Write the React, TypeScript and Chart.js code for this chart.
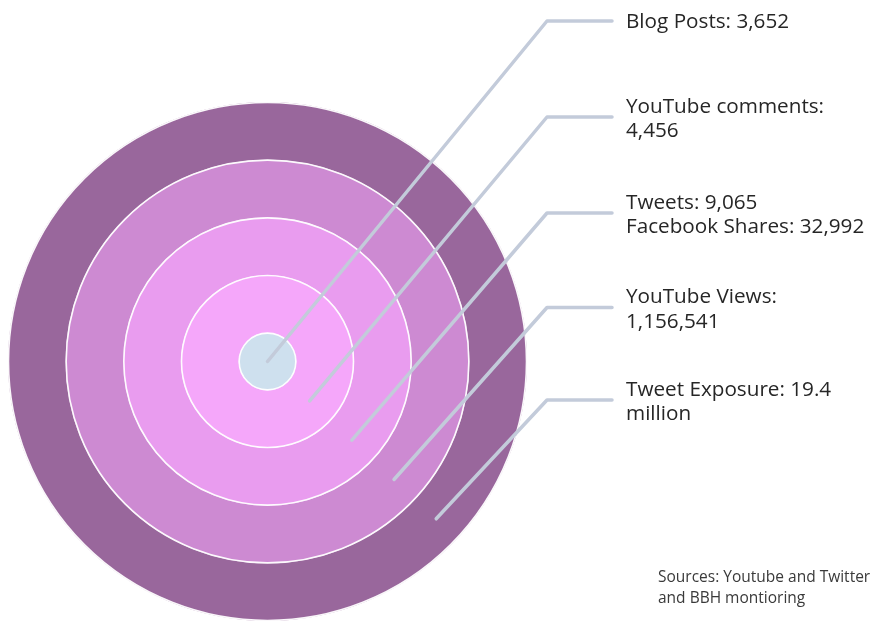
import React, { useEffect, useRef } from "react";
import { Chart, registerables } from "chart.js";

Chart.register(...registerables);

// Rings, outermost first (Chart.js draws the first dataset as the outer ring)
const ringNames = ["Tweet Exposure", "YouTube Views", "Tweets / Facebook Shares", "YouTube comments", "Blog Posts"];
const ringValues = [19400000, 1156541, 32992, 4456, 3652];
const ringWeights = [1, 1, 1, 1, 0.5];
const ringColors = ["#99679C", "#CD8AD2", "#E99CEF", "#F5A7FA", "#CEE0EE"];

// Callout texts, top to bottom (innermost ring first)
const calloutLines = [
  ["Blog Posts: 3,652"],
  ["YouTube comments:", "4,456"],
  ["Tweets: 9,065", "Facebook Shares: 32,992"],
  ["YouTube Views:", "1,156,541"],
  ["Tweet Exposure: 19.4", "million"],
];
const sourceLines = ["Sources: Youtube and Twitter", "and BBH montioring"];

const LEADER_Y = [21, 117, 213, 307.5, 400];

const calloutPlugin = {
  id: "callouts",
  afterDatasetsDraw(chart: any) {
    const ctx = chart.ctx as CanvasRenderingContext2D;
    const n = chart.data.datasets.length;
    ctx.save();
    // white separators between rings
    for (let i = 0; i < n; i++) {
      const arc = chart.getDatasetMeta(i).data[0];
      ctx.beginPath();
      ctx.arc(arc.x, arc.y, arc.outerRadius - 0.5, 0, Math.PI * 2);
      ctx.strokeStyle = "rgba(255,255,255,0.95)";
      ctx.lineWidth = 1.6;
      ctx.stroke();
    }
    const angle = (43 * Math.PI) / 180;
    const bendX = 547;
    const endX = 612;
    const textX = 626;
    ctx.lineCap = "round";
    ctx.lineJoin = "round";
    calloutLines.forEach((lines, k) => {
      const arc = chart.getDatasetMeta(n - 1 - k).data[0];
      const r = k === 0 ? 0 : (arc.innerRadius + arc.outerRadius) / 2;
      const sx = arc.x + r * Math.cos(angle);
      const sy = arc.y + r * Math.sin(angle);
      const ly = LEADER_Y[k];
      ctx.beginPath();
      ctx.moveTo(sx, sy);
      ctx.lineTo(bendX, ly);
      ctx.lineTo(endX, ly);
      ctx.strokeStyle = "#C3CBDA";
      ctx.lineWidth = 3.5;
      ctx.stroke();

      ctx.fillStyle = "#262626";
      ctx.font = "20.7px 'Open Sans'";
      ctx.textAlign = "left";
      ctx.textBaseline = "alphabetic";
      if (lines.length === 1) {
        ctx.fillText(lines[0], textX, ly + 7);
      } else {
        ctx.fillText(lines[0], textX, ly - 4.5);
        ctx.fillText(lines[1], textX, ly + 20);
      }
    });
    ctx.font = "15.5px 'Open Sans'";
    ctx.fillStyle = "#3a3a3a";
    ctx.fillText(sourceLines[0], 658, 582);
    ctx.fillText(sourceLines[1], 658, 603);
    ctx.restore();
  },
};

export default function App() {
  const ref = useRef<HTMLCanvasElement>(null);
  useEffect(() => {
    if (!ref.current) return;
    const chart = new Chart(ref.current, {
      type: "doughnut",
      data: {
        labels: ["value"],
        datasets: ringValues.map((v, i) => ({
          label: ringNames[i],
          data: [v],
          weight: ringWeights[i],
          backgroundColor: ringColors[i],
          borderWidth: 0,
        })),
      },
      options: {
        responsive: false,
        animation: false,
        cutout: 0,
        layout: { padding: { left: 8, top: 102, right: 345, bottom: 2 } },
        plugins: { legend: { display: false }, tooltip: { enabled: false } },
        events: [],
      },
      plugins: [calloutPlugin],
    } as any);
    return () => chart.destroy();
  }, []);
  return (
    <div style={{ position: "fixed", left: 0, top: 0, width: 872, height: 623, background: "#fff" }}>
      <canvas ref={ref} width={872} height={623} style={{ display: "block" }} />
    </div>
  );
}
